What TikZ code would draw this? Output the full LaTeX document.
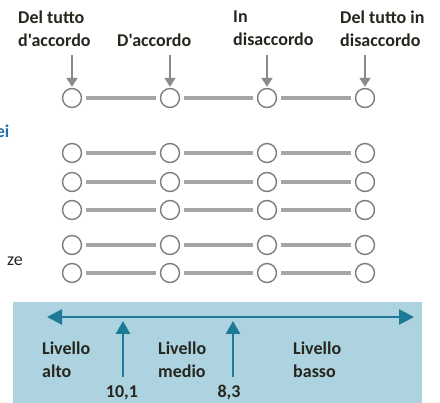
\documentclass[tikz,border=0pt]{standalone}
\usepackage{fontspec}
\setmainfont{Carlito}[Ligatures=TeXOff]
\usetikzlibrary{arrows.meta}
\definecolor{circgray}{RGB}{125,125,125}
\definecolor{linegray}{RGB}{165,165,165}
\definecolor{arrgray}{RGB}{138,138,138}
\definecolor{boxblue}{RGB}{172,211,223}
\definecolor{teal}{RGB}{28,122,150}
\definecolor{txt}{RGB}{38,38,30}
\definecolor{fragblue}{RGB}{40,110,170}
\begin{document}
\begin{tikzpicture}[x=1pt,y=-1pt,
  opt/.style={circle,draw=circgray,line width=1.4pt,fill=white,minimum size=19pt,inner sep=0pt},
  conn/.style={draw=linegray,line width=3.5pt,shorten <=4pt,shorten >=4pt},
  lab/.style={font=\bfseries\fontsize{18}{23}\selectfont,text=txt,inner sep=0pt,align=left},
  garrow/.style={draw=arrgray,line width=1.8pt,-{Triangle[length=9pt,width=11pt]}},
  tarrow/.style={draw=teal,line width=2.6pt},
  frag/.style={font=\fontsize{18}{23}\selectfont,inner sep=0pt}]
\useasboundingbox (0,0) rectangle (440,403);
% bottom box
\fill[boxblue] (13,302) rectangle (422,403);
% labels top
\node[lab,anchor=north west] (l1) at (18,11) {Del tutto\\d'accordo};
\node[lab,anchor=north west] (l2) at (117,34) {D'accordo};
\node[lab,anchor=north west] (l3) at (233,11) {In\\disaccordo};
\node[lab,anchor=north west] (l4) at (340,11) {Del tutto in\\disaccordo};
% left fragments
\node[frag,font=\bfseries\fontsize{18}{23}\selectfont,text=fragblue,anchor=base east] (f1) at (9.5,138) {ei};
\node[frag,text=txt,anchor=base east] (f2) at (23,266) {ze};
% circles
\foreach \r/\y in {1/98,2/153,3/182,4/210,5/245,6/273}{
  \foreach \c/\x in {1/72,2/170,3/267,4/365}{
    \node[opt] (c\r\c) at (\x,\y) {};
  }
  \draw[conn] (c\r1) -- (c\r2);
  \draw[conn] (c\r2) -- (c\r3);
  \draw[conn] (c\r3) -- (c\r4);
}
% grey arrows
\foreach \c/\x in {1/72,2/170,3/267,4/365}{
  \coordinate (a\c) at (\x,55);
  \draw[garrow] (a\c) -- ([yshift=1pt]c1\c.north);
}
% teal double arrow
\coordinate (dl) at (47,317);
\coordinate (dr) at (414,317);
\draw[tarrow,{Triangle[length=15pt,width=15pt]}-{Triangle[length=15pt,width=15pt]}] (dl) -- (dr);
% up arrows
\coordinate (u1s) at (123,377);
\coordinate (u1e) at (123,321);
\coordinate (u2s) at (233,377);
\coordinate (u2e) at (233,321);
\draw[tarrow,-{Triangle[length=13pt,width=14pt]}] (u1s) -- (u1e);
\draw[tarrow,-{Triangle[length=13pt,width=14pt]}] (u2s) -- (u2e);
% bottom labels
\node[lab,anchor=north west] (b1) at (42,342) {Livello\\alto};
\node[lab,anchor=north west] (b2) at (158,342) {Livello\\medio};
\node[lab,anchor=north west] (b3) at (293,342) {Livello\\basso};
\node[lab,anchor=base] (n1) at (122,398) {10,1};
\node[lab,anchor=base] (n2) at (229,398) {8,3};
\end{tikzpicture}
\end{document}
